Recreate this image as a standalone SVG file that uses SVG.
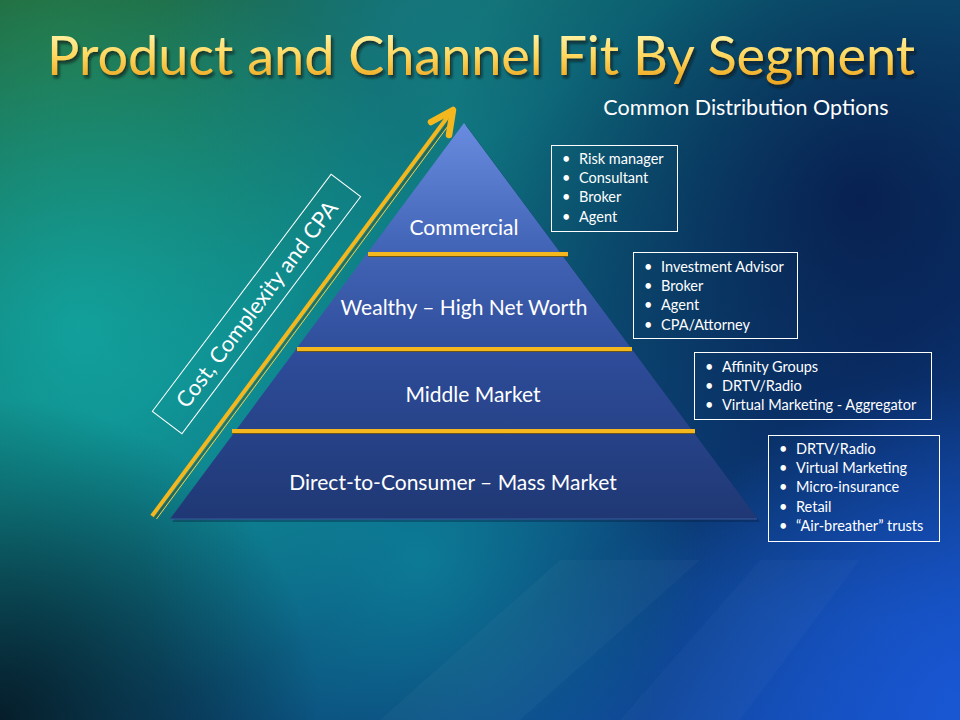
<svg xmlns="http://www.w3.org/2000/svg" width="960" height="720" viewBox="0 0 960 720">
<defs>
<linearGradient id="bg" x1="0" y1="0" x2="1" y2="1">
<stop offset="0" stop-color="#1d5a3a"/>
<stop offset="0.35" stop-color="#0d7a80"/>
<stop offset="0.7" stop-color="#0b3e78"/>
<stop offset="1" stop-color="#1450c0"/>
</linearGradient>
<radialGradient id="g1" cx="80" cy="330" r="380" gradientUnits="userSpaceOnUse">
<stop offset="0" stop-color="#12a8a4" stop-opacity="0.85"/>
<stop offset="1" stop-color="#12a8a4" stop-opacity="0"/>
</radialGradient>
<radialGradient id="g2" cx="860" cy="200" r="420" gradientUnits="userSpaceOnUse">
<stop offset="0" stop-color="#07184a" stop-opacity="0.85"/>
<stop offset="1" stop-color="#07184a" stop-opacity="0"/>
</radialGradient>
<radialGradient id="g3" cx="0" cy="720" r="320" gradientUnits="userSpaceOnUse">
<stop offset="0" stop-color="#061a26" stop-opacity="0.95"/>
<stop offset="1" stop-color="#061a26" stop-opacity="0"/>
</radialGradient>
<radialGradient id="g4" cx="960" cy="700" r="320" gradientUnits="userSpaceOnUse">
<stop offset="0" stop-color="#1a58d8" stop-opacity="0.8"/>
<stop offset="1" stop-color="#1a58d8" stop-opacity="0"/>
</radialGradient>
<radialGradient id="g5" cx="420" cy="560" r="280" gradientUnits="userSpaceOnUse">
<stop offset="0" stop-color="#0e98a8" stop-opacity="0.6"/>
<stop offset="1" stop-color="#0e98a8" stop-opacity="0"/>
</radialGradient>
<radialGradient id="g6" cx="60" cy="40" r="320" gradientUnits="userSpaceOnUse">
<stop offset="0" stop-color="#2a7a3a" stop-opacity="0.7"/>
<stop offset="1" stop-color="#2a7a3a" stop-opacity="0"/>
</radialGradient>
<radialGradient id="g7" cx="420" cy="20" r="260" gradientUnits="userSpaceOnUse">
<stop offset="0" stop-color="#167a8a" stop-opacity="0.6"/>
<stop offset="1" stop-color="#167a8a" stop-opacity="0"/>
</radialGradient>
<linearGradient id="pyr" x1="0" y1="123" x2="0" y2="520" gradientUnits="userSpaceOnUse">
<stop offset="0" stop-color="#6a8ce0"/>
<stop offset="0.3" stop-color="#4466b8"/>
<stop offset="0.6" stop-color="#2d4b98"/>
<stop offset="1" stop-color="#1f3874"/>
</linearGradient>
<linearGradient id="title" x1="0" y1="30" x2="0" y2="80" gradientUnits="userSpaceOnUse">
<stop offset="0" stop-color="#fff6b0"/>
<stop offset="0.5" stop-color="#ffd860"/>
<stop offset="1" stop-color="#eea820"/>
</linearGradient>
<filter id="shadow" x="-5%" y="-30%" width="110%" height="170%">
<feDropShadow dx="2" dy="3" stdDeviation="1.5" flood-color="#10100a" flood-opacity="0.7"/>
</filter>
<style>
.lbl{font-family:Lato,"Open Sans","Liberation Sans",sans-serif;fill:#ffffff}
.seg{font-size:21px;text-anchor:middle}
.item{font-size:14.5px}
.box{fill:none;stroke:#ffffff;stroke-width:1}
.gold{stroke:#f4b81e;stroke-width:4}
.goldd{stroke:#6a5418;stroke-width:1}
</style>
</defs>
<rect width="960" height="720" fill="url(#bg)"/>
<rect width="960" height="720" fill="url(#g6)"/>
<rect width="960" height="720" fill="url(#g7)"/>
<rect width="960" height="720" fill="url(#g1)"/>
<rect width="960" height="720" fill="url(#g2)"/>
<rect width="960" height="720" fill="url(#g5)"/>
<rect width="960" height="720" fill="url(#g3)"/>
<rect width="960" height="720" fill="url(#g4)"/>
<polygon points="560,560 700,560 520,720 380,720" fill="#ffffff" opacity="0.03"/>
<polygon points="760,560 860,560 740,720 620,720" fill="#ffffff" opacity="0.025"/>

<g id="title-text">
<text x="481" y="75" font-family="Lato,'Open Sans','Liberation Sans',sans-serif" font-size="55" text-anchor="middle" textLength="868" lengthAdjust="spacingAndGlyphs" fill="url(#title)" filter="url(#shadow)">Product and Channel Fit By Segment</text>
</g>
<text id="subtitle" class="lbl" x="746" y="115" font-size="21.5" text-anchor="middle">Common Distribution Options</text>

<g id="pyramid">
<polygon points="466,125 172,522 760,522" fill="#0a1a3a" opacity="0.35"/>
<polygon points="464,123 170,519 758,519" fill="url(#pyr)"/>
<line x1="171" y1="519" x2="757" y2="519" stroke="#3a5aa0" stroke-width="1"/>
</g>

<g id="dividers">
<line class="gold" x1="368" y1="254" x2="568" y2="254"/>
<line class="goldd" x1="368" y1="256.5" x2="568" y2="256.5"/>
<line class="gold" x1="297" y1="349" x2="632" y2="349"/>
<line class="goldd" x1="297" y1="351.5" x2="632" y2="351.5"/>
<line class="gold" x1="232" y1="431" x2="695" y2="431"/>
<line class="goldd" x1="232" y1="433.5" x2="695" y2="433.5"/>
</g>

<g id="seg-commercial"><text class="lbl seg" x="464" y="235">Commercial</text></g>
<g id="seg-wealthy"><text class="lbl seg" x="464" y="315">Wealthy – High Net Worth</text></g>
<g id="seg-middle"><text class="lbl seg" x="473" y="402">Middle Market</text></g>
<g id="seg-direct"><text class="lbl seg" x="453" y="490">Direct-to-Consumer – Mass Market</text></g>

<g id="connectors">
<line x1="152" y1="516" x2="449" y2="115" stroke="#f4b81e" stroke-width="4"/>
<line x1="155" y1="518" x2="450" y2="120" stroke="#5a4a10" stroke-width="0.8"/>
<line x1="156.5" y1="519" x2="451" y2="122" stroke="#f8d040" stroke-width="1"/>
<polyline points="431,122 453,110 449,135" fill="none" stroke="#f4b81e" stroke-width="6.5" stroke-linecap="round" stroke-linejoin="round"/>
</g>

<g id="axis-label" transform="translate(256.5,304) rotate(-53)">
<rect x="-148.5" y="-18.5" width="297" height="37" class="box"/>
<text class="lbl" x="0" y="8" font-size="22" text-anchor="middle">Cost, Complexity and CPA</text>
</g>

<g id="box-commercial">
<rect class="box" x="551.5" y="145.5" width="126" height="86"/>
<text class="lbl item"><tspan x="562" y="164">•</tspan><tspan x="579" y="164">Risk manager</tspan><tspan x="562" y="183">•</tspan><tspan x="579" y="183">Consultant</tspan><tspan x="562" y="202">•</tspan><tspan x="579" y="202">Broker</tspan><tspan x="562" y="222">•</tspan><tspan x="579" y="222">Agent</tspan></text>
</g>
<g id="box-wealthy">
<rect class="box" x="633.5" y="252.5" width="164" height="86"/>
<text class="lbl item"><tspan x="644" y="272">•</tspan><tspan x="661" y="272">Investment  Advisor</tspan><tspan x="644" y="291">•</tspan><tspan x="661" y="291">Broker</tspan><tspan x="644" y="310">•</tspan><tspan x="661" y="310">Agent</tspan><tspan x="644" y="330">•</tspan><tspan x="661" y="330">CPA/Attorney</tspan></text>
</g>
<g id="box-middle">
<rect class="box" x="694.5" y="352.5" width="237" height="67"/>
<text class="lbl item"><tspan x="705" y="372">•</tspan><tspan x="722" y="372">Affinity Groups</tspan><tspan x="705" y="391">•</tspan><tspan x="722" y="391">DRTV/Radio</tspan><tspan x="705" y="410">•</tspan><tspan x="722" y="410">Virtual Marketing - Aggregator</tspan></text>
</g>
<g id="box-direct">
<rect class="box" x="768.5" y="435.5" width="171" height="106"/>
<text class="lbl item"><tspan x="779" y="454">•</tspan><tspan x="796" y="454">DRTV/Radio</tspan><tspan x="779" y="473">•</tspan><tspan x="796" y="473">Virtual Marketing</tspan><tspan x="779" y="492">•</tspan><tspan x="796" y="492">Micro-insurance</tspan><tspan x="779" y="512">•</tspan><tspan x="796" y="512">Retail</tspan><tspan x="779" y="531">•</tspan><tspan x="796" y="531">“Air-breather” trusts</tspan></text>
</g>
</svg>
